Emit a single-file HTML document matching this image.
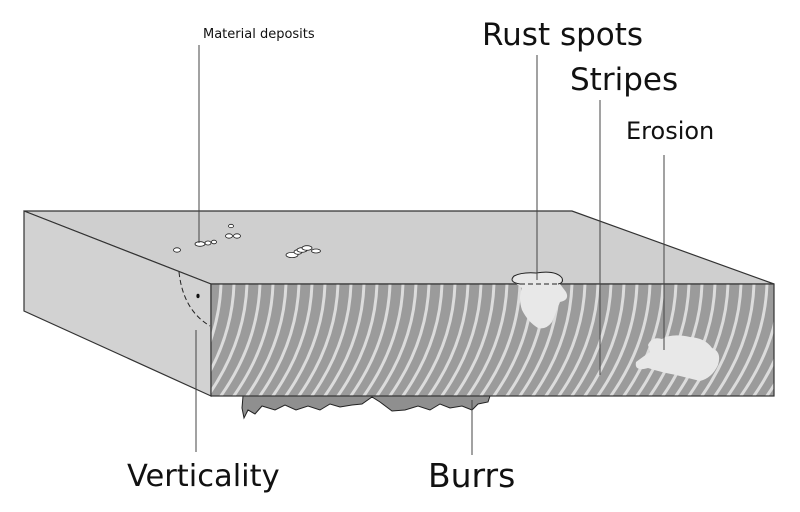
<!DOCTYPE html>
<html><head><meta charset="utf-8"><style>
html,body{margin:0;padding:0;background:#fff;width:800px;height:512px;overflow:hidden}
svg{display:block}
text{font-family:"DejaVu Sans","Liberation Sans",sans-serif;fill:#111}
</style></head><body>
<svg width="800" height="512" viewBox="0 0 800 512" xmlns="http://www.w3.org/2000/svg">
<defs>
<clipPath id="fc"><rect x="211" y="284" width="563" height="112"/></clipPath>
<path id="s" d="M0,284 Q-2,345 -42,400" fill="none"/>
</defs>
<path d="M243,396 L490,396 L488,402 L478,404 L472,410 L462,406 L450,408 L440,404 L430,410 L418,406 L405,410 L392,411 L380,402 L372,397 L362,404 L352,405 L340,407 L330,404 L320,410 L308,406 L296,410 L285,405 L275,410 L262,406 L255,414 L248,410 L244,418 L242,408 Z" fill="#8f8f8f" stroke="#222" stroke-width="1"/>
<polygon points="24,211 572,211 774,284 211,284" fill="#cfcfcf" stroke="#333" stroke-width="1.2"/>
<polygon points="24,211 211,284 211,396 24,311" fill="#d2d2d2" stroke="#333" stroke-width="1.2"/>
<rect x="211" y="284" width="563" height="112" fill="#9b9b9b"/>
<g clip-path="url(#fc)" stroke="#dcdcdc" stroke-width="3">
<use href="#s" x="208"/><use href="#s" x="221"/><use href="#s" x="234"/><use href="#s" x="247"/>
<use href="#s" x="260"/><use href="#s" x="273"/><use href="#s" x="286"/><use href="#s" x="299"/>
<use href="#s" x="312"/><use href="#s" x="325"/><use href="#s" x="338"/><use href="#s" x="351"/>
<use href="#s" x="364"/><use href="#s" x="377"/><use href="#s" x="390"/><use href="#s" x="403"/>
<use href="#s" x="416"/><use href="#s" x="429"/><use href="#s" x="442"/><use href="#s" x="455"/>
<use href="#s" x="468"/><use href="#s" x="481"/><use href="#s" x="494"/><use href="#s" x="507"/>
<use href="#s" x="520"/><use href="#s" x="533"/><use href="#s" x="546"/><use href="#s" x="559"/>
<use href="#s" x="572"/><use href="#s" x="585"/><use href="#s" x="598"/><use href="#s" x="611"/>
<use href="#s" x="624"/><use href="#s" x="637"/><use href="#s" x="650"/><use href="#s" x="663"/>
<use href="#s" x="676"/><use href="#s" x="689"/><use href="#s" x="702"/><use href="#s" x="715"/>
<use href="#s" x="728"/><use href="#s" x="741"/><use href="#s" x="754"/><use href="#s" x="767"/>
<use href="#s" x="780"/><use href="#s" x="793"/><use href="#s" x="806"/><use href="#s" x="819"/>
</g>
<rect x="211" y="284" width="563" height="112" fill="none" stroke="#333" stroke-width="1.2"/>
<path d="M514,282 Q510,274 530,273 Q552,270 562,278 L560,284 L566,292 Q570,300 560,302 Q556,312 552,322 Q546,330 538,328 Q528,322 522,310 Q518,298 522,288 Z" fill="#e8e8e8"/>
<path d="M520,284 Q508,282 514,276 Q522,272 536,273 Q556,270 562,278 Q564,283 558,284" fill="none" stroke="#222" stroke-width="1"/>
<line x1="520" y1="284" x2="558" y2="284" stroke="#222" stroke-width="1" stroke-dasharray="5,3"/>
<path d="M648,345 Q652,336 662,339 Q672,333 690,337 Q705,338 712,348 Q722,352 718,365 Q712,378 700,381 Q688,378 676,375 Q660,372 648,368 Q634,372 636,362 Q644,356 650,352 Z" fill="#e8e8e8"/>
<g fill="#fff" stroke="#222" stroke-width="0.8">
<ellipse cx="177" cy="250" rx="3.5" ry="2.2"/>
<ellipse cx="200" cy="244" rx="5" ry="2.3"/>
<ellipse cx="208" cy="243" rx="3" ry="2"/>
<ellipse cx="214" cy="242" rx="2.5" ry="1.8"/>
<ellipse cx="229" cy="236" rx="3.5" ry="2.2"/>
<ellipse cx="237" cy="236" rx="3.5" ry="2.2"/>
<ellipse cx="231" cy="226" rx="2.5" ry="1.7"/>
<ellipse cx="292" cy="255" rx="6" ry="2.6"/>
<ellipse cx="298" cy="252" rx="4" ry="2.3"/>
<ellipse cx="302" cy="250" rx="5" ry="2.3"/>
<ellipse cx="307" cy="248" rx="5" ry="2.3"/>
<ellipse cx="316" cy="251" rx="4.5" ry="2"/>
</g>
<path d="M179,272 Q183,310 210,326" fill="none" stroke="#222" stroke-width="1" stroke-dasharray="5,3"/>
<ellipse cx="198" cy="296" rx="1.6" ry="2.2" fill="#111"/>
<g stroke="#444" stroke-width="1">
<line x1="199" y1="45" x2="199" y2="243"/>
<line x1="196" y1="330" x2="196" y2="452"/>
<line x1="472" y1="400" x2="472" y2="455"/>
<line x1="537" y1="55" x2="537" y2="280"/>
<line x1="600" y1="100" x2="600" y2="375"/>
<line x1="664" y1="155" x2="664" y2="350"/>
</g>
<text x="203" y="38" font-size="13">Material deposits</text>
<text x="482" y="45" font-size="31">Rust spots</text>
<text x="570" y="90" font-size="31">Stripes</text>
<text x="626" y="139" font-size="24">Erosion</text>
<text x="127" y="486" font-size="30.5">Verticality</text>
<text x="428" y="487" font-size="33">Burrs</text>
</svg>
</body></html>
